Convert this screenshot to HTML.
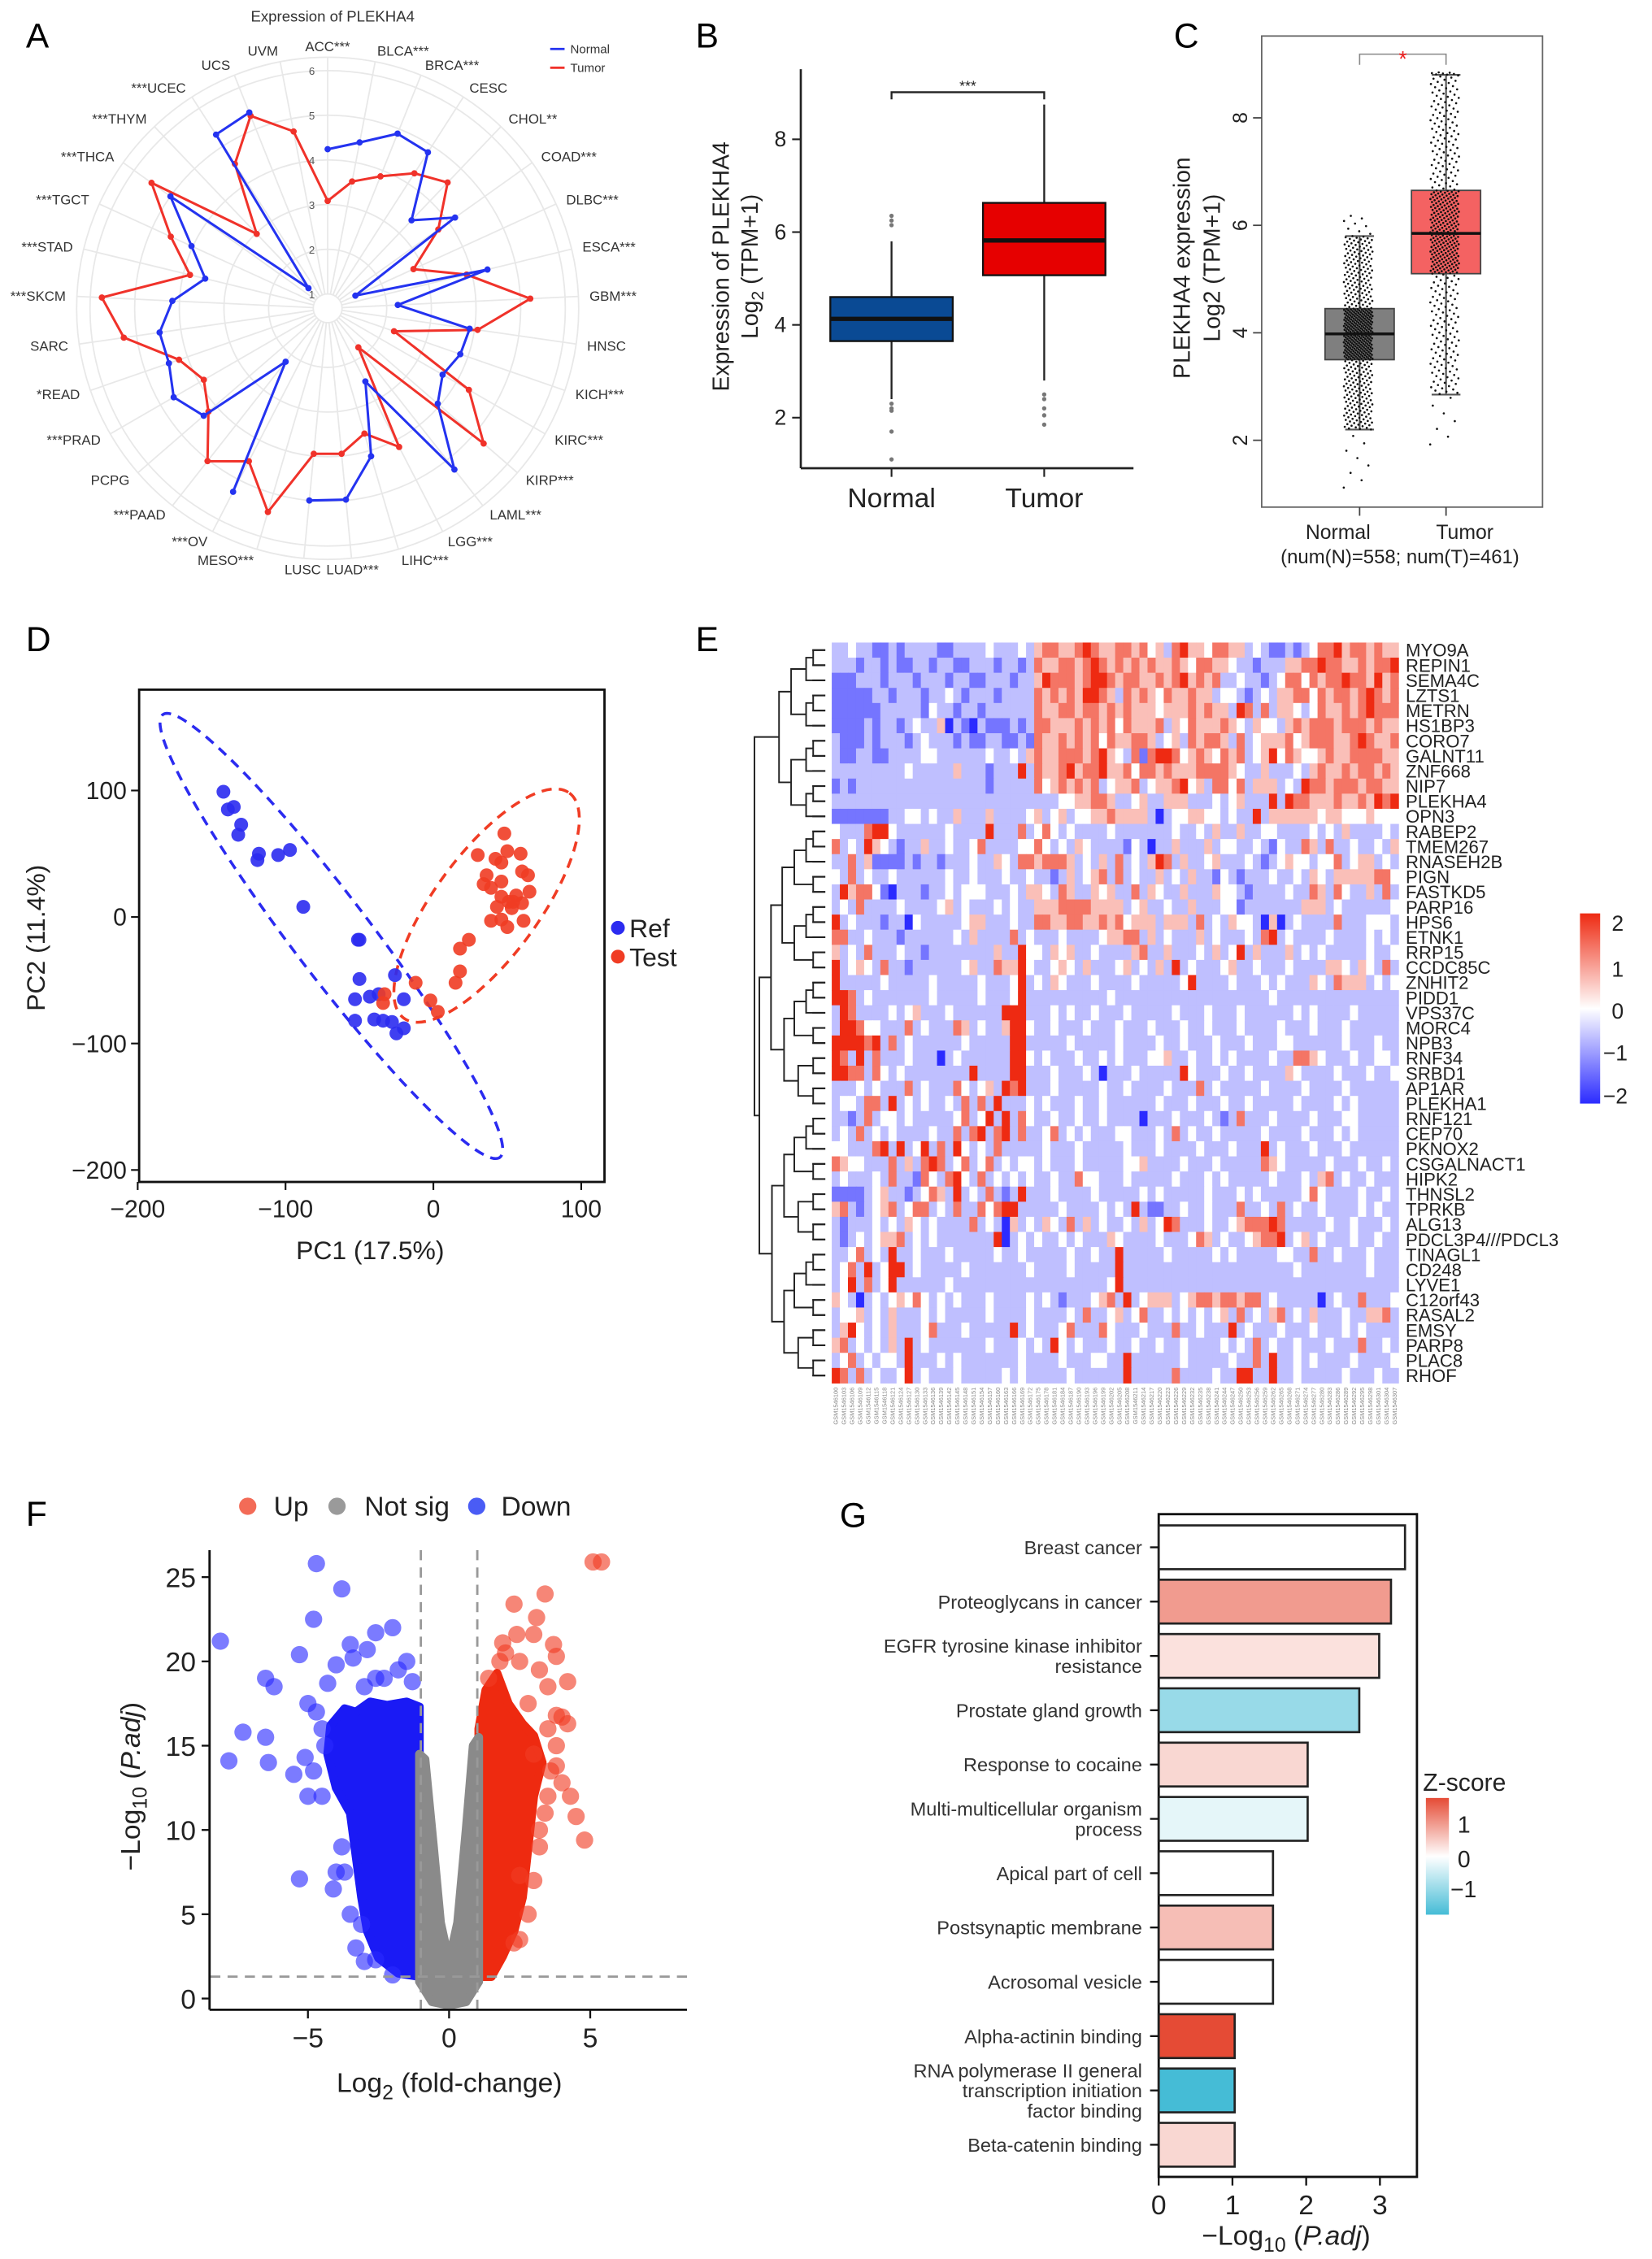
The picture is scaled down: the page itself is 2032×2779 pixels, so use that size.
<!DOCTYPE html>
<html><head><meta charset="utf-8">
<style>
html,body{margin:0;padding:0;background:#fff}
svg{display:block}
text{font-family:"Liberation Sans",Arial,sans-serif}
</style></head>
<body>
<svg id="fig" xmlns="http://www.w3.org/2000/svg" width="2032" height="2779" viewBox="0 0 1147 1568" preserveAspectRatio="none">
<rect x="0" y="0" width="1147" height="1568" fill="#fff"/>

<text x="18" y="33" font-size="24">A</text>
<text x="483" y="33" font-size="24">B</text>
<text x="815" y="33" font-size="24">C</text>
<text x="18" y="452" font-size="24">D</text>
<text x="483" y="452" font-size="24">E</text>
<text x="18" y="1059" font-size="24">F</text>
<text x="583" y="1060" font-size="24">G</text>

<text x="231" y="15" font-size="10.5" fill="#333" text-anchor="middle">Expression of PLEKHA4</text>
<g>
<line x1="382" y1="34" x2="392" y2="34" stroke="#2433f0" stroke-width="1.6"/>
<text x="396" y="37" font-size="8.5" fill="#333">Normal</text>
<line x1="382" y1="47" x2="392" y2="47" stroke="#f0322a" stroke-width="1.6"/>
<text x="396" y="50" font-size="8.5" fill="#333">Tumor</text>
</g>
<g id="pA"></g>

<g id="pB"></g>
<text transform="translate(506,185) rotate(-90)" font-size="16" fill="#222" text-anchor="middle">Expression of PLEKHA4</text>
<text transform="translate(526,185) rotate(-90)" font-size="16" fill="#222" text-anchor="middle">Log<tspan dy="4" font-size="12">2</tspan><tspan dy="-4"> (TPM+1)</tspan></text>

<g id="pC"></g>
<text transform="translate(826,186) rotate(-90)" font-size="16" fill="#222" text-anchor="middle">PLEKHA4 expression</text>
<text transform="translate(847,186) rotate(-90)" font-size="16" fill="#222" text-anchor="middle">Log2 (TPM+1)</text>
<text x="972" y="391" font-size="13.5" fill="#222" text-anchor="middle">(num(N)=558; num(T)=461)</text>

<g id="pD"></g>
<text x="257" y="874" font-size="18" fill="#222" text-anchor="middle">PC1 (17.5%)</text>
<text transform="translate(31,651) rotate(-90)" font-size="18" fill="#222" text-anchor="middle">PC2 (11.4%)</text>
<circle cx="429" cy="644" r="4.8" fill="#2b2bf0"/>
<text x="437" y="650.5" font-size="18" fill="#222">Ref</text>
<circle cx="429" cy="664" r="4.8" fill="#f03c24"/>
<text x="437" y="670.5" font-size="18" fill="#222">Test</text>

<g id="pE"></g>

<g id="pF"></g>
<g>
<circle cx="172" cy="1045.5" r="6" fill="#f36b57"/>
<text x="190" y="1052" font-size="19" fill="#222">Up</text>
<circle cx="234" cy="1045.5" r="6" fill="#9a9a9a"/>
<text x="253" y="1052" font-size="19" fill="#222">Not sig</text>
<circle cx="331" cy="1045.5" r="6" fill="#4a5cf5"/>
<text x="348" y="1052" font-size="19" fill="#222">Down</text>
</g>
<text x="312" y="1452" font-size="19" fill="#222" text-anchor="middle">Log<tspan dy="5" font-size="14">2</tspan><tspan dy="-5"> (fold-change)</tspan></text>
<text transform="translate(97,1240) rotate(-90)" font-size="19" fill="#222" text-anchor="middle">−Log<tspan dy="5" font-size="14">10</tspan><tspan dy="-5"> (</tspan><tspan font-style="italic">P.adj</tspan>)</text>

<g id="pG"></g>
<text x="893" y="1558" font-size="19" fill="#222" text-anchor="middle">−Log<tspan dy="5" font-size="14">10</tspan><tspan dy="-5"> (</tspan><tspan font-style="italic">P.adj</tspan>)</text>
<text x="988" y="1243" font-size="17" fill="#222">Z-score</text>
<defs>
<linearGradient id="zgrad" x1="0" y1="0" x2="0" y2="1">
<stop offset="0" stop-color="#e54b35"/><stop offset="0.5" stop-color="#ffffff"/><stop offset="1" stop-color="#45bcd6"/>
</linearGradient>
<linearGradient id="hgrad" x1="0" y1="0" x2="0" y2="1">
<stop offset="0" stop-color="#ee2a12"/><stop offset="0.5" stop-color="#ffffff"/><stop offset="1" stop-color="#2b2bff"/>
</linearGradient>
</defs>
<rect x="990" y="1248" width="16" height="81" fill="url(#zgrad)"/>
<text x="1012" y="1272" font-size="16" fill="#222">1</text>
<text x="1012" y="1296" font-size="16" fill="#222">0</text>
<text x="1007" y="1317" font-size="16" fill="#222">−1</text>

<rect x="1097" y="634" width="14" height="132" fill="url(#hgrad)"/>
<text x="1119" y="646" font-size="15" fill="#222">2</text>
<text x="1119" y="678" font-size="15" fill="#222">1</text>
<text x="1119" y="707" font-size="15" fill="#222">0</text>
<text x="1113" y="736" font-size="15" fill="#222">−1</text>
<text x="1113" y="766" font-size="15" fill="#222">−2</text>
</svg>

<script>
const NS='http://www.w3.org/2000/svg';
function mk(tag,parent,attrs){const e=document.createElementNS(NS,tag);for(const k in attrs)e.setAttribute(k,attrs[k]);parent.appendChild(e);return e;}
function T(parent,x,y,s,size,anchor,fill){const e=mk('text',parent,{x:x,y:y,'font-size':size,'text-anchor':anchor||'start',fill:fill||'#222'});e.textContent=s;return e;}

/* ================= Panel A: radar ================= */
const radarLabels=["ACC***","BLCA***","BRCA***","CESC","CHOL**","COAD***","DLBC***","ESCA***","GBM***","HNSC","KICH***","KIRC***","KIRP***","LAML***","LGG***","LIHC***","LUAD***","LUSC","MESO***","***OV","***PAAD","PCPG","***PRAD","*READ","SARC","***SKCM","***STAD","***TGCT","***THCA","***THYM","***UCEC","UCS","UVM"];
const radarNormal=[4.24,4.46,4.89,4.83,3.4,4.18,1.36,4.36,2.25,3.89,3.82,3.65,3.94,5.27,2.52,4.13,4.98,5.0,null,5.3,2.2,4.35,4.66,4.44,4.48,4.16,3.5,4.03,5.0,1.3,5.3,5.4,null];
const radarTumor=[3.08,3.57,3.86,4.27,4.57,3.72,2.79,3.88,5.22,4.07,2.25,4.33,5.3,1.79,4.17,3.6,3.95,3.95,5.43,4.53,5.03,4.21,3.88,4.2,5.29,5.74,3.85,4.54,5.52,2.98,4.52,5.32,4.71];
const radarTicks=[1,2,3,4,5,6];
(function(){
 const g=document.getElementById('pA');
 const cx=227.5,cy=214,n=radarLabels.length;
 const rr=v=>10+(v-1)*31;
 const ang=i=>i*2*Math.PI/n;
 const pt=(i,v)=>[cx+rr(v)*Math.sin(ang(i)),cy-rr(v)*Math.cos(ang(i))];
 const rings=radarTicks.concat([6.3]);
 rings.forEach(t=>{const c=mk('circle',g,{cx:cx,cy:cy,r:rr(t),fill:'none',stroke:'#e8e8e8','stroke-width':1});
  
  });
 for(let i=0;i<n;i++){const a=pt(i,1),b=pt(i,6.3);
  const l=mk('line',g,{x1:a[0],y1:a[1],x2:b[0],y2:b[1],stroke:'#e8e8e8','stroke-width':1});
  
  }
 radarTicks.forEach(t=>{const e=T(g,cx-11,cy-rr(t)+3,String(t),7.5,'middle','#555');
  
  });
 for(let i=0;i<n;i++){const a=ang(i),r=182,s=Math.sin(a);
  const x=cx+r*s,y=cy-r*Math.cos(a)+3.5;
  const anc=s>0.15?'start':(s<-0.15?'end':'middle');
  const e=T(g,x,y,radarLabels[i],9.5,anc,'#333');
  
  }
 function series(vals,color,name,closed){
  let d='',pen=false;
  const idx=[...Array(n).keys()];if(closed)idx.push(0);
  idx.forEach(i=>{const v=vals[i];if(v==null){pen=false;return;}const p=pt(i,v);d+=(pen?'L':'M')+p[0].toFixed(1)+','+p[1].toFixed(1);pen=true;});
  const pth=mk('path',g,{d:d,fill:'none',stroke:color,'stroke-width':1.7,'stroke-linejoin':'round'});
  
  
  vals.forEach((v,i)=>{if(v==null)return;const p=pt(i,v);
   const c=mk('circle',g,{cx:p[0],cy:p[1],r:2.2,fill:color});
   
   });
 }
 series(radarTumor,'#f0322a','tumor',true);
 series(radarNormal,'#2433f0','normal',false);
})();

/* ================= Panel B ================= */
const bGroups=["Normal","Tumor"];
const bLowWhisk=[2.4,2.8];
const bQ1=[3.65,5.07];
const bMedian=[4.13,5.82];
const bQ3=[4.6,6.63];
const bHighWhisk=[5.8,8.75];
const bOutliers=[[6.35,6.25,6.15,2.3,2.2,2.15,1.7,1.1],[2.5,2.4,2.2,2.05,1.85]];
const bTicks=[2,4,6,8];
(function(){
 const g=document.getElementById('pB');
 const y=v=>225.5-(v-4)*32.2;
 const xc=[619,725],hw=42.5,fills=['#0a4a94','#e60000'];
 let e=mk('line',g,{x1:556,y1:48,x2:556,y2:325,stroke:'#222','stroke-width':1.5});
 
 
 e=mk('line',g,{x1:556,y1:325,x2:787,y2:325,stroke:'#222','stroke-width':1.5});
 
 
 bTicks.forEach(t=>{const l=mk('line',g,{x1:550,y1:y(t),x2:556,y2:y(t),stroke:'#222','stroke-width':1.2});
  
  
  const tt=T(g,546,y(t)+5,String(t),15,'end','#222');
  
  });
 bGroups.forEach((nm,i)=>{
  const x=xc[i];
  let l=mk('line',g,{x1:x,y1:325,x2:x,y2:331,stroke:'#222','stroke-width':1.2});
  
  
  const tt=T(g,x,352,nm,19,'middle','#222');
  
  
  l=mk('line',g,{x1:x,y1:y(bHighWhisk[i]),x2:x,y2:y(bLowWhisk[i]),stroke:'#222','stroke-width':1.3});
  
  
  const r=mk('rect',g,{x:x-hw,y:y(bQ3[i]),width:2*hw,height:y(bQ1[i])-y(bQ3[i]),fill:fills[i],stroke:'#111','stroke-width':1.3});
  
  
  l=mk('line',g,{x1:x-hw,y1:y(bMedian[i]),x2:x+hw,y2:y(bMedian[i]),stroke:'#111','stroke-width':3});
  
  
  bOutliers[i].forEach(v=>{const c=mk('circle',g,{cx:x,cy:y(v),r:1.5,fill:'#777'});
   
   });
 });
 const br=mk('path',g,{d:'M619,69 V64 H725 V69',fill:'none',stroke:'#222','stroke-width':1.3});
 
 
 const st=T(g,672,63,'***',10,'middle','#222');
 
 
})();

/* ================= Panel C ================= */
const cGroups=["Normal","Tumor"];
const cMin=[1.05,1.85];
const cLowWhisk=[2.2,2.85];
const cQ1=[3.5,5.1];
const cMedian=[3.98,5.85];
const cQ3=[4.45,6.65];
const cHighWhisk=[5.8,8.8];
const cMax=[6.2,8.85];
const cCounts=[558,461];
const cTicks=[2,4,6,8];
(function(){
 const g=document.getElementById('pC');
 const y=v=>231-(v-4)*37.3;
 const xc=[944,1004],hw=24,fills=['#7f7f7f','#f46262'];
 let e=mk('rect',g,{x:876,y:25,width:195,height:327,fill:'none',stroke:'#666','stroke-width':1});
 
 
 cTicks.forEach(t=>{const l=mk('line',g,{x1:870,y1:y(t),x2:876,y2:y(t),stroke:'#444','stroke-width':1});
  
  
  const tt=mk('text',g,{transform:'translate(866,'+y(t)+') rotate(-90)','font-size':14,'text-anchor':'middle',fill:'#222'});
  tt.textContent=String(t);
  
  });
 const lx=[929,1017];
 cGroups.forEach((nm,i)=>{
  const x=xc[i];
  let l=mk('line',g,{x1:x,y1:352,x2:x,y2:358,stroke:'#444','stroke-width':1});
  
  
  const tt=T(g,lx[i],374,nm,14,'middle','#222');
  
  
  const r=mk('rect',g,{x:x-hw,y:y(cQ3[i]),width:2*hw,height:y(cQ1[i])-y(cQ3[i]),fill:fills[i],stroke:'#444','stroke-width':1});
  
  
  l=mk('path',g,{d:`M${x},${y(cQ3[i])}V${y(cHighWhisk[i])}M${x-10},${y(cHighWhisk[i])}H${x+10}M${x},${y(cQ1[i])}V${y(cLowWhisk[i])}M${x-10},${y(cLowWhisk[i])}H${x+10}`,fill:'none',stroke:'#555','stroke-width':1.2});
  
  
  const qs=[cMin[i],cLowWhisk[i],cQ1[i],cMedian[i],cQ3[i],cHighWhisk[i],cMax[i]];
  const ps=[0,0.015,0.25,0.5,0.75,0.985,1];
  const N=cCounts[i];
  for(let k=0;k<N;k++){
   const p=(k+0.5)/N;let j=0;while(j<5&&p>ps[j+1])j++;
   const v=qs[j]+(qs[j+1]-qs[j])*(p-ps[j])/(ps[j+1]-ps[j]);
   const jit=((k*0.6180339887)%1)-0.5;
   const c=mk('circle',g,{cx:x-1+jit*20,cy:y(v),r:0.75,fill:'#111'});
   
   
  }
  l=mk('line',g,{x1:x-hw,y1:y(cMedian[i]),x2:x+hw,y2:y(cMedian[i]),stroke:'#111','stroke-width':2});
  
  
 });
 const br=mk('path',g,{d:'M944,45 V37.6 H1004 V45',fill:'none',stroke:'#888','stroke-width':0.9});
 
 
 const st=T(g,974,46,'*',15,'middle','#f02020');
 
 
})();

/* ================= Panel D: PCA ================= */
const refPC1=[-142,-139,-135,-130,-132,-118,-119,-105,-97,-88,-51,-50,-50,-26,-53,-43,-37,-20,-53,-40,-34,-28,-25,-20];
const refPC2=[99,85,87,73,65,50,45,49,53,8,-18,-18,-49,-46,-65,-63,-61,-65,-82,-81,-82,-83,-92,-88];
const testPC1=[48,30,42,50,59,46,36,34,46,60,64,39,56,46,65,60,51,43,53,39,46,61,50,24,18,18,15,-12,-33,-34,-2,3,54];
const testPC2=[66,49,46,52,50,43,33,26,28,36,33,23,17,16,20,11,12,8,7,-3,-2,-3,-8,-18,-25,-43,-52,-52,-61,-68,-66,-75,12];
const refEllipseEnds=[[-183,160],[45,-190]];
const testEllipseEnds=[[-20,-80],[92,98]];
const dTicks=[-200,-100,0,100];
(function(){
 const g=document.getElementById('pD');
 const x=v=>300.9+v*1.0265, y=v=>636.5-v*0.878;
 let e=mk('rect',g,{x:96.6,y:478.7,width:323.1,height:341.7,fill:'none',stroke:'#111','stroke-width':1.6});
 
 
 dTicks.forEach(t=>{
  let l=mk('line',g,{x1:x(t),y1:820.4,x2:x(t),y2:826,stroke:'#111','stroke-width':1.2});
  
  
  let tt=T(g,x(t),845,(t<0?'−':'')+Math.abs(t),17,'middle','#222');
  
  
  l=mk('line',g,{x1:91,y1:y(t),x2:96.6,y2:y(t),stroke:'#111','stroke-width':1.2});
  
  
  tt=T(g,88,y(t)+6,(t<0?'−':'')+Math.abs(t),17,'end','#222');
  
  
 });
 function ell(ends,ry,color,name){
  const a=[x(ends[0][0]),y(ends[0][1])],b=[x(ends[1][0]),y(ends[1][1])];
  const cx=(a[0]+b[0])/2,cy=(a[1]+b[1])/2,rx=Math.hypot(b[0]-a[0],b[1]-a[1])/2;
  const ang=Math.atan2(b[1]-a[1],b[0]-a[0])*180/Math.PI;
  const el=mk('ellipse',g,{cx:cx,cy:cy,rx:rx,ry:ry,transform:`rotate(${ang} ${cx} ${cy})`,fill:'none',stroke:color,'stroke-width':2,'stroke-dasharray':'7,5'});
  
  
 }
 ell(refEllipseEnds,27,'#2b2bf0','ref-confidence-ellipse');
 ell(testEllipseEnds,36,'#f03c24','test-confidence-ellipse');
 refPC1.forEach((v,i)=>{const c=mk('circle',g,{cx:x(v),cy:y(refPC2[i]),r:4.8,fill:'#2b2bf0','fill-opacity':0.9});
  
  });
 testPC1.forEach((v,i)=>{const c=mk('circle',g,{cx:x(v),cy:y(testPC2[i]),r:4.8,fill:'#f03c24','fill-opacity':0.9});
  
  });
})();

/* ================= Panel E: heatmap ================= */
const genes=["MYO9A","REPIN1","SEMA4C","LZTS1","METRN","HS1BP3","CORO7","GALNT11","ZNF668","NIP7","PLEKHA4","OPN3","RABEP2","TMEM267","RNASEH2B","PIGN","FASTKD5","PARP16","HPS6","ETNK1","RRP15","CCDC85C","ZNHIT2","PIDD1","VPS37C","MORC4","NPB3","RNF34","SRBD1","AP1AR","PLEKHA1","RNF121","CEP70","PKNOX2","CSGALNACT1","HIPK2","THNSL2","TPRKB","ALG13","PDCL3P4///PDCL3","TINAGL1","CD248","LYVE1","C12orf43","RASAL2","EMSY","PARP8","PLAC8","RHOF"];
const levelCodes="abcdefg";
const levelValues=[-2,-1.3,-0.6,0,0.6,1.3,2];
const heatRows=[
"ccdccbbcbccccbbccccdcccdc"+"effeefgfeeffefdecfgeedffeecdcbbcbcdffgeffefeeg",
"cccbccbcbbccbccbbcccbccbc"+"feeffefgfefefefeefedffeedccbccceeffgffeefeffg",
"bbbcccbcccbcccbccbbcccbcc"+"egfffefggfeffeefefgefefccdccbcdffdfeffgffegef",
"bbbbbccbcccbccdcbcccbcccc"+"fefefeggfecfefedfeefeecddcbcdceeffdfeffefgfef",
"bbbbbbcccccbdccbccbcccccc"+"feeffeffefefeeedeeefefeecgfcfceedcdfeefefgfff",
"bbbbcbccbcdcceacbacbbbcbc"+"ffeeefefefdfeeefcedfeeefedceddcefefffefffefee",
"cbbbcbcccbcdcccbcbbccbbcb"+"feefefefdfeeffecdecfeffecfcdeeefdefffeefgfeef",
"cbbccbbccccddccccccdccdce"+"feefffefgedcfbfggfdefedfefcdegdfeddefeeffffee",
"cccccccccdcccccecccbcccgc"+"feefgeffgeefdffefeeeffffedccecccdcefeefeffefe",
"bcbccccccccccccccccbccccc"+"fdefefefcdeefcdeefgdecffdfceeecdcgffefffeffee",
"ccccccccccccccccccccccccc"+"cccddeeffeccdecceeecccdcdecccgcgffeeefeefegfg",
"bbbbbbbccddcdcceccceccccd"+"ecdecddeefeeeecacddeeddcdccgceeeeeedeedddeddde",
"dcccfggdccccccdccccgcccfc"+"dfdcdccccdcccccccdccdcecceccddccccdcdceccccdcc",
"fcdcgedcbcceccdccdfccccdd"+"fdcdcedccccbdcaccecccecddccdcbdccfecfccdccdce",
"ccfcebbbbcbccbcccdccedcff"+"efffecdcecfcdcegfceccdecccdcbcdeddcddfcdeecdc",
"dcfcdccdccccccdccdcccdccd"+"ccbcecdefcfcdccecdceccbdcbcccdccdcedceeeeeffd",
"cgeffdbacccbccdcdddcccdce"+"edcfeccedeccfcedcceccceddcbccccdccfecfdccecfce",
"cdcfccccdccccdecdcccdcdcc"+"eeeffffeeeecdeccdccecccddbccccccceeecdccccccdce",
"gcdcccbccadcccccdeecccdcc"+"ffeeffeefefdeeeceeecfcdceddcaeacdccccfcccdddc",
"ffccdcccbccccccdceccccfcd"+"cccdccccdeeffcecdcccecdcccdcfgcdccccdccccdcdc",
"ecdcfcccdccbcccccccceccgd"+"dcedeccdccccefccecccdcecdgcecccecdcdcccccdccd",
"gcdedcfccbccccccdeccfeegd"+"ccdedcecccdecdcecgcdcccdeccdcccdcccceedcedcfc",
"gcccccdcccccdcccccdcccdgc"+"dcedcccdccccdcccccdgccccdcccdcdcccedcfeeecdcd",
"ggfcdcccccccdcccccdcccdgc"+"cccccccccdcccccccccccccccccccdcccccccccccccccc",
"cgfccccdcdecccdccccccgggc"+"ccdcdccdcccdcccccdcccdcccdccccccdcdccccdccccc",
"cggfddcccfcdcccfecdcceggd"+"ccdcccdcccdcccdcccdccdcccdccccdcccdcccdcccccc",
"ggggfgcfcdccccccdcccccggc"+"ccccdcccccdccccdccdcccdcccdcccddccccccdcccdcc",
"gfcgcfcccdcccacdccccccggd"+"cdcccdccdcdcccddeccdccdcdccccdccffedcccdccddc",
"ggffcfdcdccccccccgccccggc"+"ccdcccdcacccdcccccgdcccdccdccccedccccdcccdccd",
"cccdcdcccfcdcccfdcdecgfgc"+"ccdcccccdccdccccdcccfcdcccccdccccdccccdcccccc",
"cddcffcgcdcdccdcfcfcgcccd"+"cdcccdccdccccccdcccdcccdccdcccccdccccdcdccccc",
"ccbcfcddcdcccccdfcdgcgcfd"+"ccdccdccdccccacccdcccdcbcfcccdccccdcccddccccc",
"cdcfcdcdccccdccfcfgcfgcfc"+"cdfcdcdcccddcccdcfcdccdcccccdccccdcccdcdccccc",
"ddcccfgcgcdgcfcgdcdcfcccc"+"cdcccdcccccdcccdccccdcccdcccgcdcccdcccdcccccc",
"feddcccfcecfgfcdfcdfcdcdd"+"cdcccdcccccddeccccdcccdcccccfedcccccdcccdccdc",
"cdcccdcfccbfdcfgdcfcdcdcd"+"ccdccfddcccdcccccdcccdcdcccccdcccdcefcdccdccc",
"bbbbcdeccbcdfecgcdcfcbcgc"+"ccdccccdcccccdcdcccccdcccdcdcccccdfdccccdccdc",
"efcbcdefcdffcdcfccfdfggcc"+"cccdccccdcdcgcbbccdccdcccfccdcfcdccdccccdcdcc",
"cbcccdcdcedcdccccfcdcaecd"+"cedcfcecdccdcecdgfcccdccdefffgfcccccdccdcccdc",
"cbcdcdeefcdcdcccccccgacdc"+"dccdcdcccedccccdcccdfecdccdeffgcdecdcccdccdcc",
"ccdfcdcgccdcccdcccccdccdc"+"ccccdccdccgcccccdcccccdcdcccccddccfccdcccdccc",
"cdfcgcdggcdcccccdcccccccd"+"ccccdcccccgcccccccccccccccccccccdccccccccdccc",
"cdgcfcdgccccccdcccccccccc"+"cccccccccdgcccccccccccccccccccccccccccccccccc",
"edcacdcdedfdcdcdcccdccccd"+"cdcbcccdefcgcdeeecdeffeffeffcdcccccacdccfcccd",
"cddecdcecccdcdcccccdccccd"+"ccccdcfccdecdfccdcdcdcdecfcdcefcdcecccdcceef",
"cegdcdcecccdfcccdcccccgcd"+"cccdfcccfdcccdcccfccdcccgcdcccdcccdcccdcdcccc",
"efcdcdcecgcdcccccccdcccdc"+"dcgdcdcccdccdccdccdccccdcdcfcdccdcccdcccfccdc",
"cdfcdcddcgcccdcdcccccccdc"+"cccdcccddccgccccccdcccccdccfcgccdcdccccdccccd",
"gfcfcdccdgcdcccdcccccdcdc"+"ccccdccccccgcccccfccccdccggccgccdcccccdcccdcc"
];
const nCols=70;
const sampleIds=[];for(let i=0;i<nCols;i++)sampleIds.push('GSM'+(1546100+i*3));
(function(){
 const g=document.getElementById('pE');
 const x0=577.5,x1=971,y0=446,y1=960;
 const cw=(x1-x0)/nCols,rh=(y1-y0)/genes.length;
 function col(v){
  const t=Math.min(1,Math.abs(v)/2);
  let c0=[255,255,255],c1=v>=0?[238,42,18]:[43,43,255];
  const m=c0.map((a,k)=>Math.round(a+(c1[k]-a)*t));
  return `rgb(${m[0]},${m[1]},${m[2]})`;
 }
 genes.forEach((gn,r)=>{
  let s=heatRows[r]||'';while(s.length<nCols)s+='c';s=s.slice(0,nCols);
  for(let c=0;c<nCols;c++){
   const v=levelValues[levelCodes.indexOf(s[c])];
   const rc=mk('rect',g,{x:(x0+c*cw).toFixed(2),y:(y0+r*rh).toFixed(2),width:(cw+0.3).toFixed(2),height:(rh+0.3).toFixed(2),fill:col(v)});
   
   
  }
  const yc=y0+(r+0.5)*rh;
  const tk=mk('line',g,{x1:564,y1:yc,x2:573,y2:yc,stroke:'#222','stroke-width':1.2});
  
  
  const t=T(g,976,yc+4.5,gn,12.5,'start','#222');
  
  
 });
 sampleIds.forEach((sid,c)=>{
  const t=mk('text',g,{transform:`translate(${x0+(c+0.5)*cw+1.5},963) rotate(-90)`,'font-size':4.2,'text-anchor':'end',fill:'#888'});
  t.textContent=sid;
  
  
 });
 let d='';
 const leafX=573;
 function node(lo,hi){
  if(lo===hi)return {x:leafX,y:y0+(lo+0.5)*rh};
  const n=hi-lo+1;
  let mid;
  if(lo===0&&hi===genes.length-1)mid=11;else mid=Math.floor((lo+hi)/2);
  const a=node(lo,mid),b=node(mid+1,hi);
  const x=leafX-8.4*Math.log2(n)-(n>3?2:0);
  d+=`M${a.x},${a.y}H${x}V${b.y}H${b.x}`;
  return {x:x,y:(a.y+b.y)/2};
 }
 node(0,genes.length-1);
 const p=mk('path',g,{d:d,fill:'none',stroke:'#222','stroke-width':1.1});
 
 
})();

/* ================= Panel F: volcano ================= */
const downDenseLFC=[-1.05,-1.05,-1.5,-2.2,-2.8,-3.3,-3.7,-4.2,-4.3,-4.0,-3.5,-3.3,-3.1,-2.9,-2.5,-1.8];
const downDenseP=[1.3,17.3,17.6,17.4,17.6,17.0,17.2,16.2,14.5,12.5,11,8.5,6,4,2.4,1.5];
const upDenseLFC=[1.05,1.05,1.3,1.7,2.1,2.6,3.0,3.3,3.0,2.8,2.6,2.3,1.9,1.5];
const upDenseP=[1.3,16,18.3,19.3,17.5,16.3,15.6,14,12,9,6,4,2.5,1.3];
const nsDenseLFC=[-1.05,-0.85,-0.55,-0.3,0,0.3,0.6,0.85,1.05,1.05,0.6,0,-0.6,-1.05];
const nsDenseP=[14.5,14.2,9,4.5,2.2,4.5,10,15,15.5,1.0,-0.2,-0.4,-0.2,1.0];
const downLFC=[-8.1,-4.7,-3.8,-4.8,-5.3,-2.0,-2.6,-3.5,-2.9,-3.4,-1.5,-6.5,-6.2,-5.0,-7.3,-7.8,-6.4,-6.5,-5.5,-5.3,-4.1,-4.0,-3.1,-2.6,-4.3,-4.5,-5.1,-2.6,-4.0,-5.0,-4.7,-4.4,-4.8,-4.5,-3.8,-3.7,-3.5,-3.3,-3.0,-2.0,-2.3,-1.8,-1.3,-3.0];
const downP=[21.2,25.8,24.3,22.5,20.4,22,21.7,21,20.7,20.2,20,19,18.5,17.5,15.8,14.1,14,15.5,13.3,7.1,6.5,7.5,4.4,2.3,18.7,16,14.3,19,19.8,12,17,15,13.5,12,9,7.5,5,3,2.2,1.4,19,19.5,18.8,18.5];
const upLFC=[5.1,5.4,3.4,2.3,3.1,3.0,2.4,1.9,3.7,3.8,2.5,3.2,4.2,3.5,4.0,4.2,3.8,3.8,4.0,4.3,4.5,4.8,3.2,2.5,2.3,3.5,3.0,2.0,3.5,3.8,3.6,3.4,3.2,3.0,2.8,2.5,1.8,1.4,2.8];
const upP=[25.9,25.9,24,23.4,22.6,21.6,21.6,21.1,21,20.3,20,19.5,18.8,18.5,16.7,16.3,16.8,13.8,12.8,12,10.8,9.4,10,7.3,3.3,12,14.5,20.5,16,15,13.5,11,9,7,5,3.5,20,19,17.5];
const fXTicks=[-5,0,5];
const fYTicks=[0,5,10,15,20,25];
const fThresholdLFC=1, fThresholdP=1.3;
(function(){
 const g=document.getElementById('pF');
 const x=v=>311.8+v*19.6, y=v=>1387.2-v*11.7;
 const clip=mk('clipPath',g,{id:'fclip'});
 mk('rect',clip,{x:146,y:1060,width:340,height:335});
 const area=mk('g',g,{'clip-path':'url(#fclip)'});
 
 
 function poly(xs,ys,color,name){
  const pts=xs.map((v,i)=>x(v).toFixed(1)+','+y(ys[i]).toFixed(1)).join(' ');
  const p=mk('polygon',area,{points:pts,fill:color,stroke:color,'stroke-width':6,'stroke-linejoin':'round'});
  
  
 }
 poly(downDenseLFC,downDenseP,'#1a1af5','down-genes-dense-cloud');
 poly(upDenseLFC,upDenseP,'#ee2a10','up-genes-dense-cloud');
 poly(nsDenseLFC,nsDenseP,'#8a8a8a','notsig-genes-dense-cloud');
 downLFC.forEach((v,i)=>{const c=mk('circle',area,{cx:x(v),cy:y(downP[i]),r:6,fill:'#2a2aff','fill-opacity':0.62});
  
  });
 upLFC.forEach((v,i)=>{const c=mk('circle',area,{cx:x(v),cy:y(upP[i]),r:6,fill:'#f03c24','fill-opacity':0.62});
  
  });
 [-fThresholdLFC,fThresholdLFC].forEach(t=>{const l=mk('line',g,{x1:x(t),y1:1076,x2:x(t),y2:1395,stroke:'#999','stroke-width':1.6,'stroke-dasharray':'7,5'});
  
  });
 let l=mk('line',g,{x1:146,y1:y(fThresholdP),x2:477,y2:y(fThresholdP),stroke:'#999','stroke-width':1.6,'stroke-dasharray':'7,5'});
 
 
 l=mk('line',g,{x1:145.5,y1:1076,x2:145.5,y2:1395,stroke:'#111','stroke-width':1.6});
 
 
 l=mk('line',g,{x1:145.5,y1:1395,x2:477,y2:1395,stroke:'#111','stroke-width':1.6});
 
 
 fXTicks.forEach(t=>{const k=mk('line',g,{x1:x(t),y1:1395,x2:x(t),y2:1401,stroke:'#111','stroke-width':1.3});
  
  
  const tt=T(g,x(t),1421,(t<0?'−':'')+Math.abs(t),19,'middle','#222');
  
  });
 fYTicks.forEach(t=>{const k=mk('line',g,{x1:140,y1:y(t),x2:145.5,y2:y(t),stroke:'#111','stroke-width':1.3});
  
  
  const tt=T(g,136,y(t)+7,String(t),19,'end','#222');
  
  });
})();

/* ================= Panel G: enrichment bars ================= */
const gTerms=[["Breast cancer"],["Proteoglycans in cancer"],["EGFR tyrosine kinase inhibitor","resistance"],["Prostate gland growth"],["Response to cocaine"],["Multi-multicellular organism","process"],["Apical part of cell"],["Postsynaptic membrane"],["Acrosomal vesicle"],["Alpha-actinin binding"],["RNA polymerase II general","transcription initiation","factor binding"],["Beta-catenin binding"]];
const gNegLogP=[3.34,3.15,2.99,2.72,2.02,2.02,1.55,1.55,1.55,1.03,1.03,1.03];
const gZscore=[0,1.0,0.3,-1.0,0.4,-0.25,0,0.65,0,1.8,-1.8,0.4];
const gTicks=[0,1,2,3];
(function(){
 const g=document.getElementById('pG');
 const x=v=>804.5+v*51.2;
 const rowY=i=>1074+i*37.7;
 function zcol(z){const t=Math.min(1,Math.abs(z)/1.8);const c1=z>=0?[229,75,53]:[69,188,214];
  const m=[255,255,255].map((a,k)=>Math.round(a+(c1[k]-a)*t));return `rgb(${m[0]},${m[1]},${m[2]})`;}
 let e=mk('rect',g,{x:804.5,y:1051,width:179.3,height:460,fill:'none',stroke:'#111','stroke-width':1.6});
 
 
 gTerms.forEach((lines,i)=>{
  const yc=rowY(i);
  const r=mk('rect',g,{x:x(0),y:yc-15.2,width:x(gNegLogP[i])-x(0),height:30.4,fill:zcol(gZscore[i]),stroke:'#222','stroke-width':1.5});
  
  
  const k=mk('line',g,{x1:798.5,y1:yc,x2:804.5,y2:yc,stroke:'#111','stroke-width':1.3});
  
  
  const lh=14,top=yc-(lines.length-1)*lh/2+4.8;
  lines.forEach((ln,j)=>{const t=T(g,793,top+j*lh,ln,13.3,'end','#333');
   
   });
 });
 gTicks.forEach(t=>{const k=mk('line',g,{x1:x(t),y1:1511,x2:x(t),y2:1517,stroke:'#111','stroke-width':1.3});
  
  
  const tt=T(g,x(t),1537,String(t),19,'middle','#222');
  
  });
})();
</script>
</body></html>
